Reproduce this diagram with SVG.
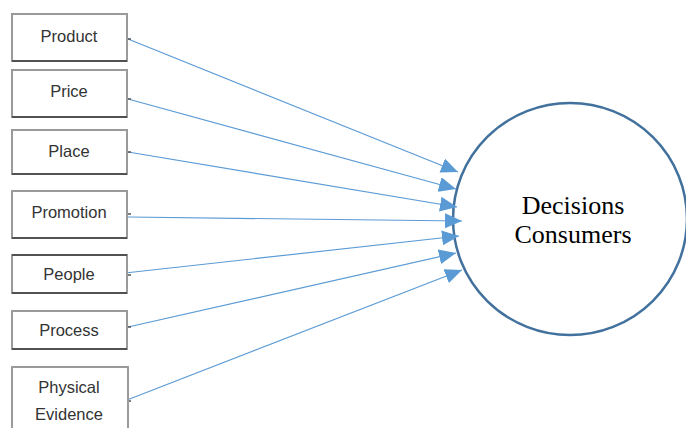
<svg xmlns="http://www.w3.org/2000/svg" width="686" height="428" viewBox="0 0 686 428">
  <style>
    .box { fill: #ffffff; stroke: #9a9a9a; stroke-width: 2; }
    .shadow { stroke: #3a3a3a; stroke-width: 1.5; fill: none; }
    .lbl { font-family: "Liberation Sans", Arial, sans-serif; font-size: 16.5px; fill: #333333; text-anchor: middle; }
    .conn { stroke: #5b9bd5; stroke-width: 1.2; fill: none; marker-end: url(#arrow); }
    .tick { stroke: #555555; stroke-width: 1.5; }
    .circ { fill: #ffffff; stroke: #41719c; stroke-width: 2.5; }
    .ctext { font-family: "Liberation Serif", "Times New Roman", serif; font-size: 26px; fill: #000000; text-anchor: middle; }
  </style>
  <defs>
    <marker id="arrow" markerUnits="userSpaceOnUse" markerWidth="19" markerHeight="15" refX="17" refY="7.5" orient="auto">
      <path d="M0,0 L17,7.5 L0,15 Z" fill="#5b9bd5"/>
    </marker>
  </defs>
  <rect width="686" height="428" fill="#ffffff"/>

  <g id="consumers">
    <ellipse class="circ" cx="570" cy="219" rx="117" ry="116"/>
    <text class="ctext" x="573" y="214">Decisions</text>
    <text class="ctext" x="573" y="243">Consumers</text>
  </g>

  <g id="connectors">
    <line class="conn" x1="128" y1="39" x2="458" y2="172"/>
    <line class="conn" x1="128" y1="99" x2="456" y2="189"/>
    <line class="conn" x1="128" y1="152" x2="457" y2="207"/>
    <line class="conn" x1="128" y1="217" x2="462" y2="221"/>
    <line class="conn" x1="125" y1="273" x2="459" y2="236"/>
    <line class="conn" x1="128" y1="327" x2="456" y2="253"/>
    <line class="conn" x1="127" y1="400" x2="462" y2="270"/>
    <line class="tick" x1="127" y1="39" x2="131" y2="39"/>
    <line class="tick" x1="127" y1="99" x2="131" y2="99"/>
    <line class="tick" x1="127" y1="152" x2="131" y2="152"/>
    <line class="tick" x1="127" y1="214" x2="131" y2="214"/>
    <line class="tick" x1="127" y1="275" x2="131" y2="275"/>
    <line class="tick" x1="127" y1="327" x2="131" y2="327"/>
    <line class="tick" x1="127" y1="401" x2="131" y2="401"/>
  </g>

  <g id="product">
    <rect class="box" x="12" y="14" width="115" height="47"/>
    <line class="shadow" x1="12" y1="61" x2="127" y2="61"/>
    <text class="lbl" x="69" y="42">Product</text>
  </g>
  <g id="price">
    <rect class="box" x="12" y="70" width="115" height="47"/>
    <line class="shadow" x1="12" y1="117" x2="127" y2="117"/>
    <text class="lbl" x="69" y="97">Price</text>
  </g>
  <g id="place">
    <rect class="box" x="12" y="130" width="115" height="44"/>
    <line class="shadow" x1="12" y1="174" x2="127" y2="174"/>
    <text class="lbl" x="69" y="157">Place</text>
  </g>
  <g id="promotion">
    <rect class="box" x="12" y="191" width="115" height="47"/>
    <line class="shadow" x1="12" y1="238" x2="127" y2="238"/>
    <text class="lbl" x="69" y="218">Promotion</text>
  </g>
  <g id="people">
    <rect class="box" x="12" y="255" width="115" height="38"/>
    <line class="shadow" x1="12" y1="293" x2="127" y2="293"/>
    <line class="shadow" x1="12" y1="255" x2="127" y2="255"/>
    <text class="lbl" x="69" y="280">People</text>
  </g>
  <g id="process">
    <rect class="box" x="12" y="311" width="115" height="38"/>
    <line class="shadow" x1="12" y1="349" x2="127" y2="349"/>
    <text class="lbl" x="69" y="336">Process</text>
  </g>
  <g id="physical-evidence">
    <rect class="box" x="12" y="367" width="116" height="70"/>
    <text class="lbl" x="69" y="393">Physical</text>
    <text class="lbl" x="69" y="420">Evidence</text>
  </g>
</svg>
